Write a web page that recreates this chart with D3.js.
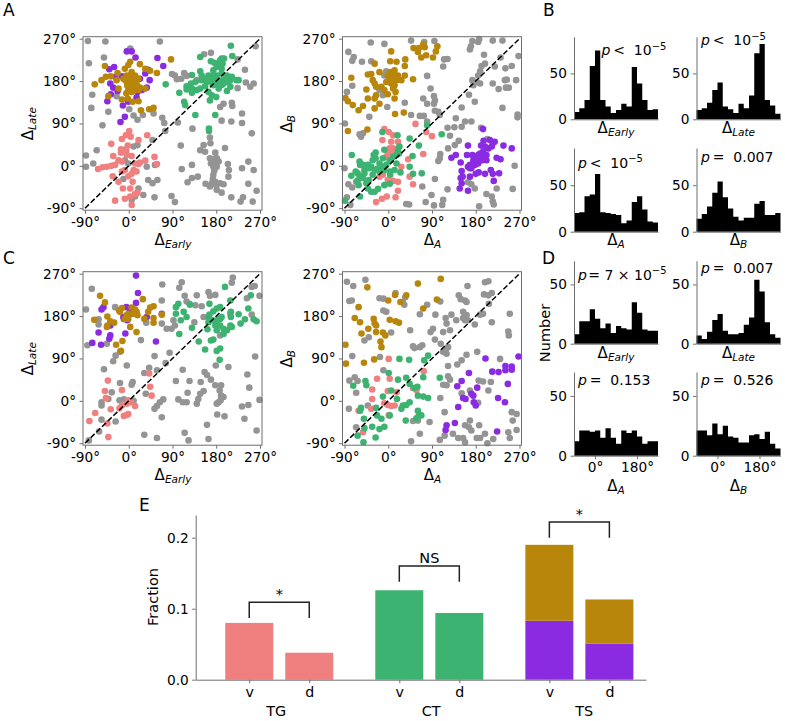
<!DOCTYPE html>
<html><head><meta charset="utf-8">
<script src="https://cdn.jsdelivr.net/npm/d3@7/dist/d3.min.js"></script>
<style>html,body{margin:0;padding:0;background:#fff}svg{display:block}text{font-family:"DejaVu Sans",sans-serif;fill:#000}</style>
</head><body><svg id="c" width="785" height="721"></svg>
<script>
// Panel A: Delta-Early (x) vs Delta-Late (y)
const aGrey=[[-84,265],[-48,264],[64,264],[3,249],[-51,230],[-82,218],[261,254],[169,240],[155,237],[239,204],[224,226],[89,195],[95,192],[99,184],[108,185],[114,197],[119,191],[140,182],[241,177],[250,168],[257,175],[224,165],[-75,151],[-77,123],[-25,148],[-42,115],[-54,86],[1,120],[10,107],[18,98],[29,108],[51,111],[69,102],[73,91],[75,74],[101,92],[131,79],[212,134],[213,127],[195,132],[188,125],[191,96],[211,94],[233,111],[233,91],[253,69],[167,60],[168,48],[154,44],[147,33],[157,30],[198,38],[107,43],[178,28],[167,16],[174,14],[181,16],[169,5],[178,5],[185,9],[174,-2],[181,-2],[176,-10],[174,-19],[173,-28],[178,-34],[171,-37],[158,-38],[167,-44],[180,-41],[188,-37],[195,-39],[181,-51],[191,-57],[211,-67],[230,-76],[235,-67],[255,-76],[263,-53],[246,-38],[233,-5],[246,9],[257,-9],[204,4],[206,-9],[205,-23],[142,-23],[130,2],[109,-7],[130,-26],[121,-35],[88,-64],[95,-77],[-88,22],[-88,-2],[-73,5],[-66,33],[10,41],[-11,30],[18,44],[37,-2],[54,2],[40,-30],[49,-37],[59,-30],[53,-67],[30,-62],[20,-48],[-11,-28],[-8,12],[-1,5],[13,-65],[6,-72],[49,55],[-10,34]];
const aPink=[[1,74],[4,62],[-6,65],[-14,57],[20,55],[38,65],[-36,47],[-2,43],[-16,35],[-5,32],[-16,28],[-4,23],[6,21],[-32,21],[53,19],[58,4],[-21,12],[-14,9],[-28,2],[-36,0],[-45,-2],[-54,-3],[-63,-7],[13,5],[23,7],[34,11],[20,4],[10,-9],[16,-12],[6,-17],[-1,-22],[-8,-9],[-14,-12],[-33,-22],[-21,-34],[8,-34],[3,-48],[-12,-48],[18,-57],[13,-60],[3,-65],[-8,-70],[-28,-74],[6,-83]];
const aGreen=[[210,255],[213,233],[147,231],[191,228],[196,228],[188,224],[169,222],[176,219],[185,217],[193,217],[181,210],[191,206],[174,203],[130,193],[147,201],[150,192],[137,178],[119,169],[128,175],[130,164],[119,162],[130,155],[140,161],[147,164],[104,155],[76,173],[114,136],[116,129],[137,108],[178,108],[165,79],[165,74],[167,139],[180,146],[164,157],[157,169],[150,182],[164,192],[174,185],[185,182],[195,182],[209,182],[222,182],[226,182],[202,192],[191,196],[167,182],[161,178],[174,171],[185,171],[195,175],[209,168],[202,159],[185,164],[171,150],[181,192],[212,189],[164,185],[171,192],[178,178],[188,178],[175,178],[178,185],[170,178],[198,178],[205,178],[192,172],[170,189],[182,176],[200,186],[160,185]];
const aPurple=[[-4,243],[6,243],[14,230],[59,229],[71,212],[-40,205],[-30,210],[40,204],[34,196],[43,182],[37,166],[-38,175],[-32,166],[-23,159],[-37,152],[-44,137],[-12,128],[-1,136],[16,145],[-8,104],[-17,93],[-14,190],[23,185],[27,161],[-28,189],[18,157]];
const aGold=[[87,226],[25,118],[42,120],[51,123],[-70,173],[-56,182],[-47,189],[-37,190],[-23,197],[-49,212],[-25,182],[-8,206],[-1,214],[3,221],[23,216],[34,206],[44,202],[58,197],[-4,192],[6,199],[13,192],[3,185],[13,182],[20,185],[-4,178],[6,175],[16,175],[3,168],[13,164],[20,161],[6,157],[-5,154],[-14,141],[-2,143],[8,136],[20,137],[-42,148],[34,164],[-1,182],[10,189],[-8,183],[16,169],[23,166],[10,159],[-1,161],[-11,185],[-21,164],[-3,190],[3,192],[8,185],[8,178],[13,175],[3,178],[-3,170],[8,168],[13,170],[3,175],[16,180],[10,172]];
// Panel A right: Delta-A (x) vs Delta-B (y)
const bGrey=[[-36,262],[-8,259],[47,266],[74,263],[95,265],[173,265],[187,269],[185,263],[170,254],[168,247],[215,266],[235,266],[-82,242],[-71,231],[-74,223],[-54,221],[-35,222],[197,236],[113,211],[115,226],[122,227],[268,233],[231,230],[199,217],[192,212],[219,211],[241,207],[254,212],[189,201],[185,192],[80,191],[-4,201],[-8,192],[173,182],[182,178],[189,175],[175,171],[215,175],[240,182],[244,183],[263,182],[242,166],[248,166],[227,163],[-85,157],[-74,170],[87,164],[-11,150],[-18,161],[72,143],[80,132],[94,148],[96,139],[94,132],[166,151],[178,136],[235,123],[151,124],[-2,125],[34,134],[96,117],[103,115],[106,108],[-39,104],[47,108],[65,106],[73,106],[80,94],[-89,90],[-59,67],[-52,69],[-56,62],[266,109],[266,103],[139,101],[122,81],[136,82],[151,83],[158,94],[171,94],[191,81],[204,57],[127,64],[145,53],[107,25],[106,16],[103,10],[123,37],[137,44],[96,-28],[122,-50],[70,-44],[89,-62],[77,-77],[94,-84],[113,-72],[111,-83],[37,-81],[43,-82],[260,0],[256,-49],[223,-48],[213,-65],[215,-76],[217,-82],[202,-60],[187,-86],[164,-35],[171,-39],[178,-48],[-82,-39],[-74,-46],[-90,-5],[-85,-67],[-78,-83],[-66,-34]];
const bPink=[[56,89],[-8,78],[1,72],[10,65],[-12,55],[6,51],[10,37],[20,51],[78,72],[90,63],[41,14],[72,25],[51,-39],[-1,26],[6,26],[13,34],[3,37],[-4,19],[27,-2],[20,-34],[10,-32],[-1,-30],[-11,-19],[20,-53],[-3,-65],[-13,-70],[-25,-77],[15,-67],[-14,-12],[-18,-23],[44,-23]];
const bGreen=[[-89,-74],[-12,72],[19,65],[44,58],[63,43],[80,86],[110,67],[23,41],[20,34],[50,21],[44,-2],[51,-17],[69,-16],[25,-14],[-75,23],[-76,-21],[-67,-12],[-63,-16],[-59,-23],[-49,-16],[-52,-26],[-63,-32],[-61,-41],[-58,-65],[-32,-19],[-28,-9],[-35,-2],[-42,2],[-52,2],[-59,9],[-58,2],[-32,12],[-26,16],[-26,28],[-30,23],[-8,34],[-11,16],[-18,5],[-11,-2],[-4,2],[3,12],[10,19],[17,5],[13,-9],[3,-12],[-8,-9],[-18,-12],[-23,-7],[17,23],[22,26],[-8,-41],[3,-38],[4,-19],[-21,-49],[-40,-30],[-28,-55],[-35,-55],[-42,-48],[-45,-37],[-39,-5],[-49,-9]];
const bPurple=[[195,78],[164,43],[191,43],[196,53],[209,55],[219,51],[215,48],[237,43],[254,37],[199,41],[206,37],[213,41],[130,17],[139,23],[149,7],[162,23],[173,23],[182,19],[192,19],[202,23],[195,30],[189,26],[185,23],[175,12],[168,2],[164,-2],[171,-5],[178,2],[185,5],[194,12],[202,12],[223,17],[231,14],[211,-9],[215,-17],[228,-16],[217,-32],[199,-17],[186,-14],[180,-17],[168,-23],[151,-11],[153,-23],[149,-26],[151,-37],[147,-48],[164,-53],[182,12],[189,16],[168,-5]];
const bGold=[[52,250],[63,250],[72,258],[75,252],[61,242],[78,235],[68,230],[92,230],[98,243],[101,254],[6,243],[4,222],[17,221],[35,226],[34,212],[-28,217],[-42,194],[-35,195],[-18,199],[-76,187],[-32,182],[-28,175],[-25,168],[-45,162],[-14,168],[-8,161],[-1,152],[13,143],[15,157],[10,164],[-42,143],[-25,150],[-28,143],[-18,132],[-28,122],[-52,127],[-61,118],[-73,129],[-88,144],[-83,137],[14,110],[32,113],[-43,77],[-83,74],[-1,192],[6,199],[13,203],[20,192],[3,185],[10,182],[17,182],[27,182],[34,192],[51,184],[-4,178],[6,175],[13,171],[6,189],[13,192],[3,196],[20,185]];
// Panel C left
const cGrey=[[-76,238],[69,247],[109,252],[104,240],[214,262],[212,251],[259,244],[253,242],[164,231],[167,223],[178,225],[115,223],[119,211],[125,206],[140,224],[137,203],[68,213],[-28,199],[-88,194],[-62,173],[-62,162],[36,166],[68,164],[78,153],[88,153],[95,160],[92,171],[135,167],[150,201],[154,178],[253,183],[243,218],[269,223],[209,185],[188,139],[-85,118],[-45,121],[-27,96],[-18,104],[25,129],[53,95],[84,102],[-32,84],[-4,75],[-51,67],[76,80],[32,59],[42,70],[58,65],[111,66],[156,61],[161,55],[169,45],[148,40],[205,72],[179,75],[260,94],[244,56],[97,42],[125,42],[178,33],[190,33],[187,22],[190,11],[195,8],[189,1],[185,-3],[181,-6],[248,28],[154,21],[147,15],[143,4],[140,-6],[119,-3],[102,3],[111,-3],[121,17],[269,2],[246,-9],[233,-12],[182,-29],[197,-33],[238,-38],[263,-63],[161,-51],[115,-68],[123,-84],[164,-81],[71,3],[64,-3],[58,-11],[53,-17],[68,-35],[32,-72],[58,-79],[8,40],[6,34],[-18,38],[-35,18],[-56,-3],[-56,-10],[-19,1],[-10,3],[35,15],[-27,-44],[-56,-40],[-61,-65],[-82,-84],[-42,4],[10,0]];
const cPink=[[42,58],[-43,43],[-14,23],[-49,21],[44,30],[47,11],[-47,6],[-69,-26],[-81,-43],[-44,-48],[-42,-77],[-37,-18],[-19,-16],[-14,-10],[-4,-6],[-1,1],[4,-3],[13,-11],[-1,-28],[-4,-30],[-10,-32]];
const cGreen=[[198,242],[251,224],[209,213],[102,206],[126,204],[97,199],[97,185],[113,189],[119,178],[107,171],[130,155],[104,142],[144,126],[157,109],[174,130],[162,152],[164,167],[164,178],[166,206],[188,199],[181,196],[174,190],[166,183],[210,189],[210,178],[226,184],[246,196],[239,173],[257,173],[263,169],[230,164],[209,160],[195,153],[195,142],[212,157],[202,150],[174,171],[181,164],[188,174],[191,178],[178,160],[188,160],[181,150],[169,128],[188,111],[181,106],[187,87],[185,174]];
const cPurple=[[15,266],[19,229],[15,208],[-5,199],[3,189],[-52,199],[-56,194],[-10,174],[-3,171],[6,192],[37,178],[68,185],[-38,160],[-62,145],[-7,143],[-38,139],[-40,132],[-75,123],[-57,119],[56,126],[6,185],[-11,178]];
const cGold=[[-59,223],[-49,209],[29,216],[6,198],[13,194],[51,201],[44,198],[40,189],[-71,172],[-44,179],[-38,169],[-30,166],[-44,160],[-45,157],[-20,192],[-14,197],[-18,189],[-1,185],[-4,182],[-8,174],[10,185],[16,189],[18,182],[-1,174],[3,157],[16,146],[32,174],[51,176],[51,166],[68,183],[-26,119],[-13,127],[-16,106]];
// Panel C right
const dGrey=[[-85,253],[-47,257],[-72,244],[15,229],[-18,218],[-10,217],[35,220],[33,204],[30,210],[-80,212],[-75,213],[-10,192],[-4,189],[65,184],[80,204],[107,211],[97,183],[118,176],[130,183],[145,224],[149,216],[158,213],[161,210],[163,244],[199,252],[206,254],[197,226],[206,224],[213,229],[207,206],[195,185],[189,183],[154,189],[161,182],[164,171],[154,176],[158,171],[178,162],[140,171],[120,164],[92,153],[87,146],[113,146],[127,150],[96,130],[108,121],[45,150],[6,145],[-40,135],[-49,128],[250,185],[213,167],[247,147],[248,139],[51,116],[54,112],[70,118],[65,114],[123,114],[118,109],[113,104],[120,100],[161,98],[183,104],[230,89],[-17,93],[-74,95],[151,86],[142,77],[123,74],[-10,65],[123,52],[127,45],[113,34],[-80,43],[-69,50],[-63,42],[-66,17],[186,43],[195,41],[211,40],[206,22],[151,16],[168,22],[185,-4],[107,6],[116,-24],[-42,-10],[120,33],[85,-45],[61,-42],[51,-43],[65,-70],[47,-86],[106,-83],[116,-74],[133,-70],[144,-79],[154,-79],[158,-88],[168,-42],[158,-52],[166,-56],[171,-63],[187,-52],[182,-79],[189,-79],[199,-70],[204,-90],[216,-81],[247,-67],[250,-79],[264,-62],[256,-42],[254,-24],[264,-28],[-66,-56],[-81,-17]];
const dPink=[[1,89],[-23,47],[3,47],[73,63],[-33,24],[-33,4],[-1,21],[17,18],[51,27],[58,23],[-8,-5],[-1,-9],[6,-11],[13,-10],[-61,-21],[-35,-17],[1,-31],[-52,-67]];
const dGreen=[[23,89],[43,87],[82,96],[74,86],[1,59],[20,45],[37,49],[72,50],[106,49],[-72,32],[-47,42],[-45,33],[44,36],[54,27],[60,30],[61,11],[72,9],[82,6],[6,22],[-11,9],[18,4],[44,-3],[37,-9],[30,-10],[27,-17],[-56,-15],[-58,-21],[-25,-15],[-23,-31],[-14,-38],[3,-31],[61,-21],[63,-31],[68,-31],[58,-37],[36,-42],[-50,-38],[-49,-58],[-33,-55],[-18,-60],[-8,-55],[-63,-74],[-26,-78],[-51,-88]];
const dPurple=[[268,94],[200,90],[254,73],[254,66],[241,74],[241,65],[214,62],[227,61],[166,59],[246,36],[151,42],[142,31],[183,28],[171,15],[154,6],[159,4],[176,-3],[180,-10],[226,6],[240,-3],[144,-13],[137,-47],[120,-52],[118,-62],[224,-65],[175,11]];
const dGold=[[108,259],[61,249],[-43,241],[100,215],[72,196],[14,225],[0,213],[25,210],[37,224],[-61,199],[-69,176],[-58,167],[-30,174],[3,172],[15,169],[22,166],[-28,164],[-25,160],[-41,153],[-25,146],[-11,145],[-55,143],[-6,139],[-16,126],[-14,114],[-88,119],[-87,79],[-50,81],[-29,88]];
// Histograms (16 bins of 22.5 deg from -90)
const hB1=[8,12,21,58,75,21,14,7,10,17,14,57,39,21,10,11];
const hB2=[10,12,18,32,40,14,11,7,17,12,26,72,82,21,15,6];
const hB3=[20,21,38,40,62,21,20,19,18,9,12,32,38,24,11,10];
const hB4=[14,19,27,42,54,37,25,16,12,15,15,30,33,18,18,20];
const hD1=[8,19,19,29,21,13,17,9,15,13,12,35,26,12,11,11];
const hD2=[7,4,10,20,25,11,8,8,9,16,22,54,44,18,8,5];
const hD3=[12,21,21,20,21,15,23,15,10,21,19,21,16,10,12,12];
const hD4=[21,21,17,27,18,25,16,15,11,11,17,18,14,20,10,6];
// Bars (panel E)
const barPos=[0,1,2.5,3.5,5,6];
const barTicks=["v","d","v","d","v","d"];
const barLower=[0.08,0.038,0.126,0.094,0.083,0.051];
const barUpper=[0,0,0,0,0.107,0.062];
const barColors=["#F08080","#F08080","#3CB371","#3CB371","#8A2BE2","#8A2BE2"];
const groupNames=["TG","CT","TS"];
const groupPos=[0.45,3.03,5.58];
const brackets=[[0,1,0.087,0.109,"*"],[2.5,3.5,0.138,0.16,"NS"],[5,6,0.2,0.222,"*"]];
const scatterTicks=[-90,0,90,180,270];

const PINK="#F08080",GREEN="#3CB371",PURPLE="#8A2BE2",GOLD="#B8860B",GREY="#949494",SPINE="#6e6e6e",FS=13.7;
const svg=d3.select("#c");
svg.append("rect").attr("width",785).attr("height",721).attr("fill","#fff");
const styleAxis=g=>{g.selectAll("path,line").attr("stroke",SPINE).attr("stroke-width",1);g.selectAll("text").attr("font-size",FS).attr("font-family",'"DejaVu Sans"').attr("fill","#000");};
function mathText(x,y,sub,rot,size){
  const s=size||15;
  const t=svg.append("text").attr("text-anchor","middle").attr("font-size",s).attr("transform",`translate(${x},${y})${rot?" rotate(-90)":""}`);
  t.append("tspan").text("Δ");
  t.append("tspan").attr("font-size",s*0.7).attr("font-style","italic").attr("dy",3).text(sub);
}
function scatter(L,T,xSub,ySub,yLabX,sets){
  const x=d3.scaleLinear([-90,270],[L+2,L+177]),y=d3.scaleLinear([-90,270],[T+171.5,T+2]);
  const g=svg.append("g");
  [[sets[0],GREY],[sets[1],PINK],[sets[2],GREEN],[sets[3],PURPLE],[sets[4],GOLD]].forEach(([d,c])=>{
    g.append("g").selectAll("circle").data(d).join("circle").attr("cx",p=>x(p[0])).attr("cy",p=>y(p[1])).attr("r",3.3).attr("fill",c);
  });
  g.append("line").attr("x1",x(-90)).attr("y1",y(-90)).attr("x2",x(270)).attr("y2",y(270)).attr("stroke","#000").attr("stroke-width",1.5).attr("stroke-dasharray","5.5,2.4");
  const fmt=d=>d+"°";
  svg.append("g").attr("transform",`translate(0,${T+173.5})`).call(d3.axisBottom(x).tickValues(scatterTicks).tickFormat(fmt).tickSizeOuter(0).tickSize(3.5).tickPadding(3.5)).call(styleAxis).call(a=>a.select(".domain").remove());
  svg.append("g").attr("transform",`translate(${L},0)`).call(d3.axisLeft(y).tickValues(scatterTicks).tickFormat(fmt).tickSizeOuter(0).tickSize(3.5).tickPadding(3.5)).call(styleAxis).call(a=>a.select(".domain").remove());
  svg.append("rect").attr("x",L).attr("y",T).attr("width",179).attr("height",173.5).attr("fill","none").attr("stroke",SPINE).attr("stroke-width",1);
  mathText(L+90,T+208,xSub,false);
  mathText(yLabX,T+87,ySub,true);
}
scatter(83,36.7,"Early","Late",33,[aGrey,aPink,aGreen,aPurple,aGold]);
scatter(342.5,36.7,"A","B",292,[bGrey,bPink,bGreen,bPurple,bGold]);
scatter(83,271.7,"Early","Late",33,[cGrey,cPink,cGreen,cPurple,cGold]);
scatter(342.5,271.7,"A","B",292,[dGrey,dPink,dGreen,dPurple,dGold]);

function hist(L,y0,top,ymax,vals,sub,subY,showX,note){
  const x=d3.scaleLinear([-90,270],[L,L+84]),y=d3.scaleLinear([0,ymax],[y0,top]);
  const bw=22.5;
  const stepped=vals.map((v,i)=>[-90+i*bw,v]).concat([[270,vals[vals.length-1]]]);
  const area=d3.area().x(d=>x(d[0])).y0(y(0)).y1(d=>y(d[1])).curve(d3.curveStepAfter);
  svg.append("path").datum(stepped).attr("d",area).attr("fill","#000");
  const ax=d3.axisLeft(y).tickValues([0,50]).tickSize(3.5).tickPadding(3.5).tickSizeOuter(0);
  svg.append("g").attr("transform",`translate(${L},0)`).call(ax).call(styleAxis);
  const bx=d3.axisBottom(x).tickValues(showX?[0,180]:[]).tickFormat(d=>d+"°").tickSize(3.5).tickPadding(3.5).tickSizeOuter(0);
  svg.append("g").attr("transform",`translate(0,${y0})`).call(bx).call(styleAxis);
  mathText(L+42,subY,sub,false);
  const t=svg.append("text").attr("x",note[0]).attr("y",note[1]).attr("font-size",14);
  t.append("tspan").attr("font-style","italic").text("p");
  t.append("tspan").text(note[2]);
  if(note[3]) t.append("tspan").attr("font-size",10).attr("dy",-5.5).text(note[3]);
}
hist(574,119.3,36.7,90,hB1,"Early",133,false,[601.5,55,"\u2009< \u00a010","−5"]);
hist(696.5,119.3,36.7,90,hB2,"Late",133,false,[701,45,"\u2009< \u00a010","−5"]);
hist(574,231.7,148,90,hB3,"A",245,false,[578,167.5,"\u2009< \u00a010","−5"]);
hist(696.5,231.7,148,90,hB4,"B",245,false,[701,162,"\u2009= \u00a00.007"]);
hist(574,343.7,260.7,70,hD1,"Early",357.5,false,[578,279.5,"\u200a= 7 × 10","−5"]);
hist(696.5,343.7,260.7,70,hD2,"Late",357.5,false,[701,272.5,"\u2009= \u00a00.007"]);
hist(574,455.7,372,70,hD3,"A",491,true,[578,384.5,"\u2009= \u00a00.153"]);
hist(696.5,455.7,372,70,hD4,"B",491,true,[701,384.5,"\u2009= \u00a00.526"]);
svg.append("text").attr("transform","translate(550,333) rotate(-90)").attr("text-anchor","middle").attr("font-size",14.5).text("Number");

// Panel E
const ex=d3.scaleLinear([-0.892,6.61],[195.7,646]),ey=d3.scaleLinear([0,0.232],[679.7,515]);
const bw=ex(0.8)-ex(0);
svg.append("g").selectAll("rect").data(barPos).join("rect").attr("x",d=>ex(d-0.4)).attr("width",bw)
  .attr("y",(d,i)=>ey(barLower[i])).attr("height",(d,i)=>ey(0)-ey(barLower[i])).attr("fill",(d,i)=>barColors[i]);
svg.append("g").selectAll("rect").data(barPos).join("rect").attr("x",d=>ex(d-0.4)).attr("width",bw)
  .attr("y",(d,i)=>ey(barLower[i]+barUpper[i])).attr("height",(d,i)=>ey(barLower[i])-ey(barLower[i]+barUpper[i])).attr("fill",GOLD);
svg.append("g").attr("transform","translate(0,679.7)").call(d3.axisBottom(ex).tickValues(barPos).tickFormat((d,i)=>barTicks[i]).tickSize(3.5).tickPadding(4).tickSizeOuter(0)).call(styleAxis).call(a=>a.selectAll("text").attr("font-size",14.2));
svg.append("g").attr("transform","translate(195.7,0)").call(d3.axisLeft(ey).tickValues([0,0.1,0.2]).tickFormat(d3.format(".1f")).tickSize(3.5).tickPadding(3.5).tickSizeOuter(0)).call(styleAxis);
svg.append("g").selectAll("text").data(groupNames).join("text").attr("x",(d,i)=>ex(groupPos[i])).attr("y",716).attr("text-anchor","middle").attr("font-size",14.4).text(d=>d);
svg.append("text").attr("transform","translate(157.5,597) rotate(-90)").attr("text-anchor","middle").attr("font-size",14.5).text("Fraction");
brackets.forEach(b=>{
  const [a,c,lo,hi,lab]=b;
  svg.append("path").attr("d",d3.line()([[ex(a),ey(lo)],[ex(a),ey(hi)],[ex(c),ey(hi)],[ex(c),ey(lo)]])).attr("fill","none").attr("stroke","#222").attr("stroke-width",1.5);
  svg.append("text").attr("x",ex((a+c)/2)).attr("y",ey(hi)-(lab==="*"?3.5:3)).attr("text-anchor","middle").attr("font-size",14.5).text(lab);
});
// Panel letters
[["A",3,16],["B",543,16],["C",3,263.5],["D",542,263.5],["E",139,511]].forEach(l=>svg.append("text").attr("x",l[1]).attr("y",l[2]).attr("font-size",17).text(l[0]));
</script></body></html>
